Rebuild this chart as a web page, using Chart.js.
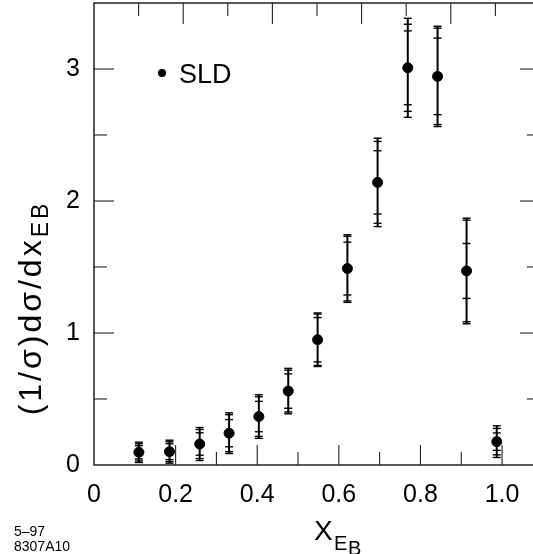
<!DOCTYPE html>
<html>
<head>
<meta charset="utf-8">
<script src="https://cdn.jsdelivr.net/npm/chart.js@4.4.0/dist/chart.umd.min.js"></script>
<style>
    html, body { margin: 0; padding: 0; background: #fff; overflow: hidden; }
    #wrap { position: absolute; left: 0; top: 0; width: 545px; height: 554px; }
</style>
</head>
<body>
<div id="wrap"><canvas id="xebChart" width="545" height="554"></canvas></div>
<script>
// SLD x_EB distribution
const xValues   = [0.110, 0.185, 0.259, 0.331, 0.404, 0.476, 0.548, 0.621, 0.695, 0.769, 0.842, 0.913, 0.987];
const yValues   = [0.096, 0.101, 0.159, 0.241, 0.367, 0.560, 0.949, 1.488, 2.141, 3.009, 2.944, 1.470, 0.177];
const statErr   = [0.050, 0.060, 0.085, 0.103, 0.115, 0.130, 0.168, 0.200, 0.240, 0.280, 0.290, 0.208, 0.066];
const systErr   = [0.065, 0.075, 0.110, 0.140, 0.150, 0.158, 0.195, 0.245, 0.310, 0.330, 0.365, 0.385, 0.100];
const totalErr  = [0.077, 0.087, 0.125, 0.154, 0.165, 0.172, 0.203, 0.256, 0.335, 0.375, 0.380, 0.400, 0.120];

const xTickValues = [0, 0.2, 0.4, 0.6, 0.8, 1.0];
const xTickLabels = ['0', '0.2', '0.4', '0.6', '0.8', '1.0'];
const yTickValues = [0, 1, 2, 3];
const yTickLabels = ['0', '1', '2', '3'];

// inward tick marks on the frame
const xMajorMarks = [0.2, 0.4, 0.6, 0.8, 1.0];
const xMinorMarks = [0.3, 0.5, 0.7, 0.9];
const topMajorMarks = [0.2, 0.4, 0.6, 0.8];
const topMinorMarks = [0.1, 0.3, 0.5, 0.7, 0.9];
const yMajorMarks = [1, 2, 3];
const yMinorMarks = [0.5, 1.5, 2.5];

const legendLabel = 'SLD';
const FONT = "'Liberation Sans', Arial, Helvetica, sans-serif";

Chart.defaults.font.family = FONT;
Chart.defaults.color = '#000';

const errorBars = {
    id: 'errorBars',
    beforeDatasetsDraw(chart) {
        const { ctx, scales: { y } } = chart;
        const meta = chart.getDatasetMeta(0);
        ctx.save();
        ctx.strokeStyle = '#000';
        meta.data.forEach((pt, i) => {
            const px = pt.x;
            const v = yValues[i];
            const top = y.getPixelForValue(v + totalErr[i]);
            const bot = y.getPixelForValue(v - totalErr[i]);
            ctx.lineWidth = 2;
            ctx.beginPath();
            ctx.moveTo(px, top);
            ctx.lineTo(px, bot);
            ctx.stroke();
            // caps for each error level
            ctx.lineWidth = 1.4;
            [statErr[i], systErr[i], totalErr[i]].forEach(e => {
                [v + e, v - e].forEach(val => {
                    const py = y.getPixelForValue(val);
                    ctx.beginPath();
                    ctx.moveTo(px - 4, py);
                    ctx.lineTo(px + 4, py);
                    ctx.stroke();
                });
            });
        });
        ctx.restore();
    }
};

const frameAndText = {
    id: 'frameAndText',
    afterDraw(chart) {
        const { ctx, chartArea: a, scales: { x, y, xTop } } = chart;
        ctx.save();
        ctx.strokeStyle = '#000';
        ctx.lineWidth = 1.3;
        ctx.strokeRect(a.left, a.top, a.right - a.left, a.bottom - a.top);

        ctx.lineWidth = 1.1;
        ctx.strokeStyle = '#222';
        const vTick = (px, y0, len) => {
            ctx.beginPath(); ctx.moveTo(px, y0); ctx.lineTo(px, y0 + len); ctx.stroke();
        };
        const hTick = (py, x0, len) => {
            ctx.beginPath(); ctx.moveTo(x0, py); ctx.lineTo(x0 + len, py); ctx.stroke();
        };
        xMajorMarks.forEach(v => vTick(x.getPixelForValue(v), a.bottom, -20));
        xMinorMarks.forEach(v => vTick(x.getPixelForValue(v), a.bottom, -13));
        topMajorMarks.forEach(v => vTick(xTop.getPixelForValue(v), a.top, 21));
        topMinorMarks.forEach(v => vTick(xTop.getPixelForValue(v), a.top, 13));
        yMajorMarks.forEach(v => {
            hTick(y.getPixelForValue(v), a.left, 20);
            hTick(y.getPixelForValue(v), a.right, -20);
        });
        yMinorMarks.forEach(v => {
            hTick(y.getPixelForValue(v), a.left, 13);
            hTick(y.getPixelForValue(v), a.right, -13);
        });

        // legend
        ctx.fillStyle = '#000';
        ctx.beginPath();
        ctx.arc(a.left + 68, a.top + 70, 4, 0, Math.PI * 2);
        ctx.fill();
        ctx.font = `27px ${FONT}`;
        ctx.textBaseline = 'alphabetic';
        ctx.textAlign = 'left';
        ctx.fillText(legendLabel, a.left + 85, a.top + 80);

        // x title: X_{E_B}
        ctx.font = `28px ${FONT}`;
        ctx.fillText('X', 314, 540);
        ctx.font = `20px ${FONT}`;
        ctx.fillText('E', 334, 550);
        ctx.fillText('B', 348, 555);

        // y title: (1/σ)dσ/dx_{EB}
        ctx.save();
        ctx.translate(41, 308);
        ctx.rotate(-Math.PI / 2);
        ctx.letterSpacing = '3px';
        ctx.font = `32px ${FONT}`;
        const main = '(1/σ)dσ/dx';
        const wMain = ctx.measureText(main).width;
        ctx.font = `23px ${FONT}`;
        const wSub = ctx.measureText('EB').width;
        const start = -(wMain + wSub) / 2;
        ctx.font = `32px ${FONT}`;
        ctx.fillText(main, start, 0);
        ctx.font = `23px ${FONT}`;
        ctx.fillText('EB', start + wMain, 7);
        ctx.restore();

        // figure id
        ctx.font = `14px ${FONT}`;
        ctx.fillText('5\u201397', 14, 536);
        ctx.fillText('8307A10', 14, 551);
        ctx.restore();
    }
};

const ctx = document.getElementById('xebChart').getContext('2d');
new Chart(ctx, {
    type: 'scatter',
    data: {
        datasets: [{
            label: legendLabel,
            data: xValues.map((xv, i) => ({ x: xv, y: yValues[i] })),
            backgroundColor: '#000',
            borderColor: '#000',
            pointRadius: 5,
            pointHoverRadius: 5
        }]
    },
    options: {
        responsive: false,
        animation: false,
        devicePixelRatio: 1,
        layout: { autoPadding: false, padding: { top: 3, right: 5, left: 0, bottom: 0 } },
        plugins: {
            legend: { display: false },
            tooltip: { enabled: false }
        },
        scales: {
            x: {
                type: 'linear',
                min: 0,
                max: 1.093,
                grid: { display: false, drawTicks: false },
                border: { display: false },
                afterFit: (scale) => {
                    scale.height = 89;
                    scale.paddingLeft = 0;
                    scale.paddingRight = 0;
                },
                afterBuildTicks: (scale) => { scale.ticks = xTickValues.map(v => ({ value: v })); },
                ticks: {
                    padding: 15,
                    maxRotation: 0,
                    font: { size: 25 },
                    callback: (value) => xTickLabels[xTickValues.indexOf(value)]
                }
            },
            xTop: {
                type: 'linear',
                position: 'top',
                min: 0,
                max: 1,
                display: false
            },
            y: {
                type: 'linear',
                min: 0,
                max: 3.5,
                grid: { display: false, drawTicks: false },
                border: { display: false },
                afterFit: (scale) => {
                    scale.width = 94;
                    scale.paddingTop = 0;
                    scale.paddingBottom = 0;
                },
                afterBuildTicks: (scale) => { scale.ticks = yTickValues.map(v => ({ value: v })); },
                ticks: {
                    padding: 14,
                    font: { size: 25 },
                    callback: (value) => yTickLabels[yTickValues.indexOf(value)]
                }
            }
        }
    },
    plugins: [errorBars, frameAndText]
});
</script>
</body>
</html>
